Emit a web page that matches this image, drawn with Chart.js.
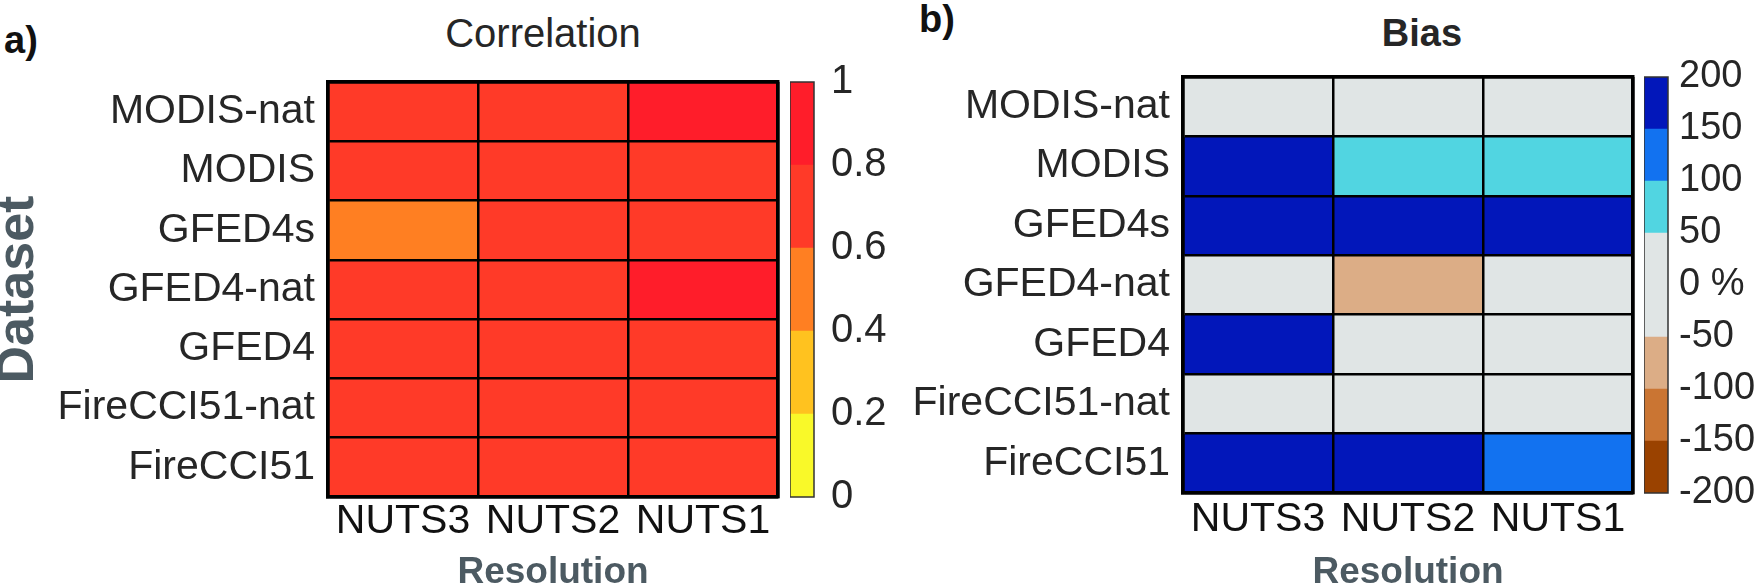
<!DOCTYPE html>
<html><head><meta charset="utf-8">
<script src="https://cdn.jsdelivr.net/npm/chart.js@4.4.0/dist/chart.umd.min.js"></script>
<style>
html,body{margin:0;padding:0;background:#fff;width:1755px;height:588px;overflow:hidden;position:relative;}
canvas{position:absolute;top:0;}
.txt{position:absolute;font-family:"Liberation Sans",Arial,sans-serif;color:#262626;white-space:nowrap;line-height:1;transform:translate(-50%,-50%);}
</style></head><body>
<div class="txt" style="left:21px;top:40px;font-weight:bold;font-size:38px;color:#111;">a)</div>
<div class="txt" style="left:937px;top:19px;font-weight:bold;font-size:38px;color:#111;">b)</div>
<div class="txt" style="left:543px;top:33px;font-size:40px;">Correlation</div>
<div class="txt" style="left:1422px;top:33px;font-size:38px;font-weight:bold;">Bias</div>
<canvas id="hm1" width="785" height="588" style="left:0px"></canvas>
<canvas id="cb1" width="110" height="588" style="left:790px"></canvas>
<canvas id="hm2" width="785" height="588" style="left:855px"></canvas>
<canvas id="cb2" width="111" height="588" style="left:1644px"></canvas>
<script>
// ---- data ----
const resolutions = ['NUTS3', 'NUTS2', 'NUTS1'];
const products = ['MODIS-nat', 'MODIS', 'GFED4s', 'GFED4-nat', 'GFED4', 'FireCCI51-nat', 'FireCCI51'];
// correlation, rows = products, columns = resolutions
const corrMODISnat   = [0.72, 0.73, 0.85];
const corrMODIS      = [0.71, 0.72, 0.74];
const corrGFED4s     = [0.55, 0.70, 0.72];
const corrGFED4nat   = [0.73, 0.74, 0.84];
const corrGFED4      = [0.71, 0.72, 0.75];
const corrFireCCInat = [0.70, 0.72, 0.74];
const corrFireCCI    = [0.71, 0.73, 0.76];
// bias in %, rows = products, columns = resolutions
const biasMODISnat   = [10, 5, -5];
const biasMODIS      = [175, 80, 70];
const biasGFED4s     = [190, 170, 160];
const biasGFED4nat   = [-20, -70, -30];
const biasGFED4      = [160, 30, 20];
const biasFireCCInat = [-10, -15, -25];
const biasFireCCI    = [185, 165, 130];
// colour scales
const corrTicks = [0, 0.2, 0.4, 0.6, 0.8, 1];
const corrColors = ['#F9F929', '#FFC21F', '#FF7F22', '#FF3A28', '#FF1D2A'];
const biasTicks = [-200, -150, -100, -50, 0, 50, 100, 150, 200];
const biasColors = ['#9A4200', '#CA7533', '#DCAD86', '#E0E5E5', '#E0E5E5', '#51D5E1', '#1272F0', '#0217BA'];

const corrRows = [corrMODISnat, corrMODIS, corrGFED4s, corrGFED4nat, corrGFED4, corrFireCCInat, corrFireCCI];
const biasRows = [biasMODISnat, biasMODIS, biasGFED4s, biasGFED4nat, biasGFED4, biasFireCCInat, biasFireCCI];

const FONT = '"Liberation Sans", Arial, sans-serif';
const TXT = '#262626';
const LBL = '#4C5A62';

function colorFor(v, ticks, colors) {
  for (let i = 0; i < colors.length; i++) {
    if (v >= ticks[i] && v < ticks[i + 1]) return colors[i];
  }
  return v < ticks[0] ? colors[0] : colors[colors.length - 1];
}

function edgeAxis(pos, labels) {
  return {
    type: 'category', labels, position: pos, offset: true,
    grid: { display: false }, ticks: { display: false },
    border: { display: true, color: '#000', width: 3.5, z: 2 },
    afterFit: s => { if (pos === 'top') s.height = 0; else s.width = 0; }
  };
}

function heatmap(id, rows, ticks, colors, g) {
  const n = products.length;
  const datasets = products.map((p, r) => ({
    label: p,
    data: resolutions.map(() => [n - 1 - r, n - r]),
    backgroundColor: rows[r].map(v => colorFor(v, ticks, colors)),
    borderWidth: 0,
    barPercentage: 1,
    categoryPercentage: 1,
    grouped: false,
    xAxisID: 'x',
    yAxisID: 'y'
  }));
  const yScale = {
    type: 'category', labels: products, position: 'left', offset: true,
    grid: { offset: true, color: '#000', lineWidth: 2.5, drawTicks: false, z: 1 },
    border: { display: true, color: '#000', width: 3.5, z: 2 },
    ticks: { font: { family: FONT, size: 41 }, color: TXT, padding: 13, autoSkip: false },
    afterFit: s => { s.width = g.yWidth; }
  };
  if (g.ylabel) {
    yScale.title = { display: true, text: g.ylabel, color: LBL, font: { family: FONT, size: 52, weight: 'bold', lineHeight: 0.72 }, padding: 0 };
  }
  new Chart(document.getElementById(id), {
    type: 'bar',
    data: { labels: resolutions, datasets },
    options: {
      responsive: false, animation: false, devicePixelRatio: 1,
      layout: { padding: { top: g.top, right: g.right, left: 0, bottom: 0 } },
      plugins: { legend: { display: false }, tooltip: { enabled: false }, title: { display: false } },
      scales: {
        x: {
          type: 'category', position: 'bottom',
          grid: { offset: true, color: '#000', lineWidth: 2.5, drawTicks: false, z: 1 },
          border: { display: true, color: '#000', width: 3.5, z: 2 },
          ticks: { font: { family: FONT, size: 41 }, color: '#111', padding: g.xpad },
          title: { display: true, text: 'Resolution', color: LBL, font: { family: FONT, size: 37, weight: 'bold', lineHeight: 0.8 }, padding: 0 },
          afterFit: s => { s.height = g.xHeight; }
        },
        xt: edgeAxis('top', resolutions),
        y: { type: 'linear', min: 0, max: n, display: false },
        yl: yScale,
        yr: edgeAxis('right', products)
      }
    }
  });
}

const frame = {
  id: 'frame',
  afterDraw(chart) {
    const a = chart.chartArea, ctx = chart.ctx;
    ctx.save();
    ctx.strokeStyle = '#333';
    ctx.lineWidth = 1.5;
    ctx.strokeRect(a.left, a.top, a.right - a.left, a.bottom - a.top);
    ctx.restore();
  }
};

function colorbar(id, ticks, colors, g, fmt) {
  const datasets = colors.map((c, i) => ({
    data: [[ticks[i], ticks[i + 1]]],
    backgroundColor: c,
    borderWidth: 0, barPercentage: 1, categoryPercentage: 1, grouped: false
  }));
  new Chart(document.getElementById(id), {
    type: 'bar',
    data: { labels: [''], datasets },
    plugins: [frame],
    options: {
      responsive: false, animation: false, devicePixelRatio: 1,
      layout: { padding: { top: g.top, bottom: g.bottom, left: 0, right: 0 } },
      plugins: { legend: { display: false }, tooltip: { enabled: false } },
      scales: {
        x: { display: false },
        y: {
          type: 'linear', position: 'right', min: ticks[0], max: ticks[ticks.length - 1],
          afterBuildTicks: s => { s.ticks = ticks.map(v => ({ value: v })); },
          grid: { display: false },
          border: { display: false },
          ticks: { font: { family: FONT, size: g.size }, color: TXT, padding: g.pad, callback: fmt },
          afterFit: s => { s.width = g.width; }
        }
      }
    }
  });
}

heatmap('hm1', corrRows, corrTicks, corrColors, { top: 82, right: 7, yWidth: 328, xHeight: 91, xpad: 0, ylabel: 'Dataset' });
heatmap('hm2', biasRows, biasTicks, biasColors, { top: 77, right: 7, yWidth: 328, xHeight: 95, xpad: 2 });
colorbar('cb1', corrTicks, corrColors, { top: 82, bottom: 91, width: 86, pad: 9, size: 40 }, v => String(Math.round(v * 10) / 10));
colorbar('cb2', biasTicks, biasColors, { top: 77, bottom: 95, width: 87, pad: 3, size: 38 }, v => v === 0 ? '0 %' : String(v));
</script>
</body></html>
